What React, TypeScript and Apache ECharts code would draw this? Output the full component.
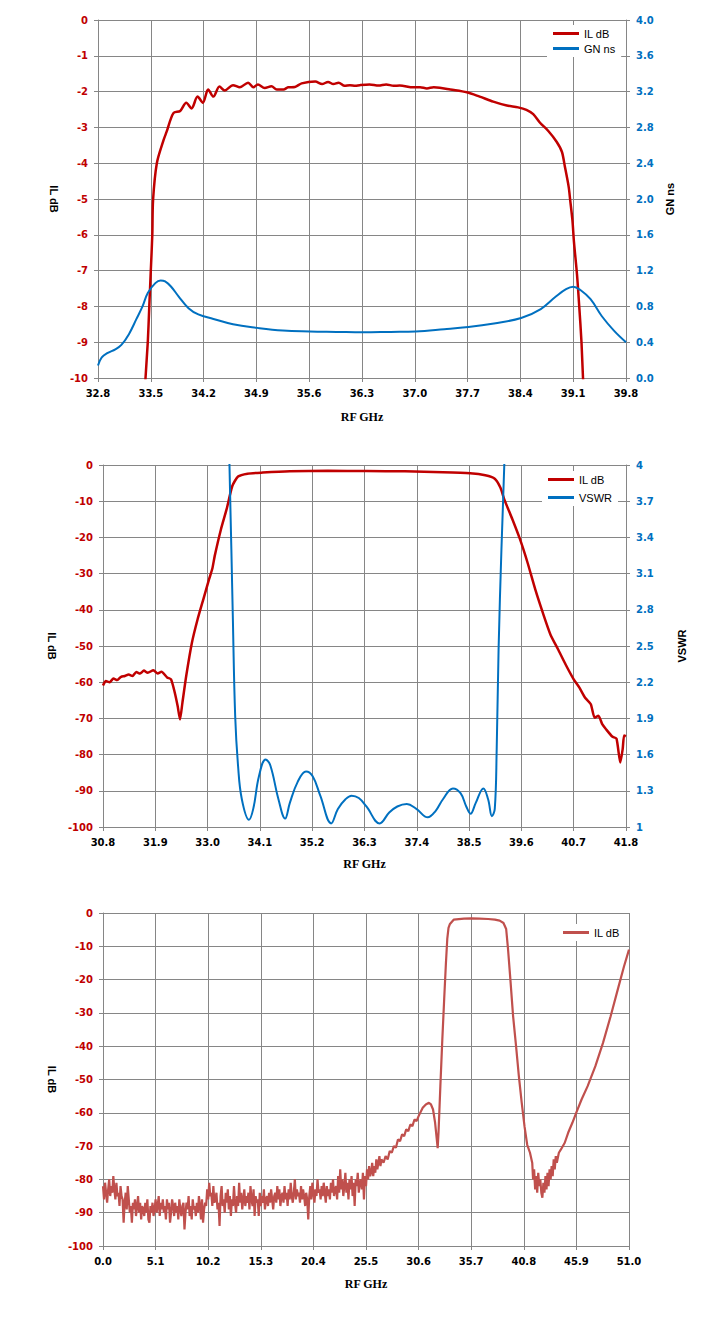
import React, { useEffect, useRef } from "react";
import * as echarts from "echarts";

// ---------- Chart 1 data (IL dB / GN ns vs RF GHz) ----------
const C1_IL_F = [33.41,33.43,33.46,33.48,33.50,33.52,33.53,33.58,33.67,33.71,33.80,33.89,33.97,34.04,34.12,34.19,34.26,34.33,34.41,34.48,34.59,34.68,34.79,34.86,34.92,35.01,35.10,35.17,35.26,35.32,35.41,35.50,35.68,35.77,35.85,35.92,35.99,36.07,36.14,36.21,36.27,36.40,36.52,36.62,36.72,36.80,36.98,37.07,37.16,37.25,37.33,37.47,37.69,37.86,38.04,38.22,38.37,38.48,38.57,38.66,38.77,38.88,38.95,38.99,39.04,39.06,39.09,39.11,39.15,39.18,39.21,39.23,39.26];
const C1_IL_V = [-11,-10,-9,-8,-7,-6,-5.03,-4.0,-3.35,-3.12,-2.6,-2.54,-2.31,-2.47,-2.14,-2.31,-1.94,-2.14,-1.86,-1.97,-1.82,-1.88,-1.75,-1.88,-1.80,-1.90,-1.85,-1.94,-1.94,-1.88,-1.87,-1.77,-1.72,-1.79,-1.73,-1.79,-1.75,-1.84,-1.82,-1.84,-1.82,-1.80,-1.83,-1.80,-1.84,-1.83,-1.88,-1.88,-1.91,-1.88,-1.89,-1.94,-2.02,-2.14,-2.28,-2.39,-2.44,-2.51,-2.63,-2.87,-3.10,-3.40,-3.68,-4.10,-4.66,-5.03,-5.6,-6.2,-7.1,-8.0,-9.0,-10,-11];
const C1_GN_F = [32.80,32.85,32.93,33.03,33.11,33.21,33.31,33.39,33.46,33.56,33.63,33.69,33.77,33.87,34.00,34.13,34.33,34.59,34.91,35.25,35.61,35.96,36.31,36.68,37.01,37.39,37.71,38.05,38.41,38.67,38.87,39.00,39.10,39.20,39.33,39.48,39.64,39.80];
const C1_GN_V = [0.14,0.23,0.28,0.32,0.37,0.49,0.66,0.80,0.95,1.06,1.09,1.08,1.02,0.91,0.78,0.71,0.66,0.60,0.56,0.53,0.52,0.515,0.51,0.515,0.52,0.545,0.57,0.61,0.67,0.77,0.91,0.99,1.02,0.98,0.88,0.69,0.53,0.40];

// ---------- Chart 2 data (IL dB / VSWR vs RF GHz) ----------
const C2_IL_F = [30.80,30.86,30.94,31.02,31.10,31.18,31.26,31.34,31.42,31.50,31.58,31.66,31.74,31.86,31.95,32.03,32.15,32.23,32.31,32.37,32.42,32.47,32.55,32.67,32.79,32.91,33.03,33.10,33.15,33.28,33.40,33.52,33.64,33.84,34.16,34.73,35.53,36.34,37.15,37.95,38.52,38.84,39.04,39.16,39.24,39.41,39.57,39.73,39.89,40.05,40.21,40.37,40.53,40.70,40.82,40.94,41.06,41.14,41.22,41.30,41.38,41.51,41.60,41.68,41.73,41.76,41.80];
const C2_IL_V = [-60.9,-59.7,-60.0,-59.0,-59.4,-58.5,-58.3,-57.9,-58.3,-57.2,-57.6,-56.8,-57.4,-56.7,-57.6,-57.1,-58.7,-59.2,-62.9,-66.6,-70.3,-65.7,-58.3,-49.1,-42.6,-37.1,-31.6,-28.6,-25.1,-17.8,-12.2,-5.8,-3.2,-2.4,-2.1,-1.75,-1.6,-1.66,-1.75,-2.0,-2.3,-2.85,-3.8,-6.3,-9.5,-15.0,-20.5,-27.0,-34.3,-40.8,-46.8,-50.9,-55.1,-59.2,-61.5,-64.3,-66.1,-69.8,-69.3,-71.6,-73.0,-75.0,-75.6,-82.2,-78.5,-74.7,-74.9];
const C2_VS_F = [33.44,33.46,33.50,33.53,33.58,33.64,33.72,33.87,33.96,34.08,34.22,34.32,34.49,34.63,34.73,34.89,35.07,35.21,35.37,35.60,35.74,35.90,36.03,36.18,36.34,36.62,36.82,36.99,37.19,37.39,37.63,37.79,37.95,38.16,38.32,38.44,38.53,38.64,38.80,38.90,38.98,39.04,39.08,39.12,39.18,39.24,39.27];
const C2_VS_V = [4.5,4.0,3.30,2.75,1.92,1.51,1.23,1.06,1.15,1.42,1.56,1.51,1.23,1.07,1.20,1.37,1.46,1.42,1.26,1.03,1.15,1.23,1.26,1.24,1.17,1.03,1.12,1.17,1.19,1.15,1.08,1.13,1.23,1.32,1.28,1.17,1.11,1.20,1.32,1.23,1.09,1.15,1.64,2.47,3.30,4.0,4.5];

// ---------- Chart 3 data (wideband IL dB vs RF GHz) ----------
const C3_NOISE_START = 0;
const C3_NOISE_STEP = 0.1;
const C3_NOISE_V = [
-82,-86,-81,-84,-87,-83,-80,-85,-82,-84,
-79,-83,-86,-81,-85,-84,-88,-82,-85,-86,
-93,-87,-84,-89,-82,-86,-90,-88,-93,-87,
-89,-86,-91,-88,-85,-90,-87,-92,-88,-89,
-91,-87,-90,-86,-92,-93,-88,-90,-87,-91,
-89,-86,-90,-88,-85,-91,-87,-89,-86,-90,
-88,-92,-86,-89,-87,-93,-90,-86,-88,-91,
-87,-90,-88,-92,-86,-89,-91,-88,-87,-95,
-90,-87,-89,-85,-91,-88,-92,-86,-89,-88,
-91,-87,-90,-85,-88,-92,-86,-93,-89,-87,
-88,-83,-86,-81,-85,-84,-88,-82,-87,-86,
-84,-89,-87,-94,-85,-82,-88,-86,-90,-84,
-87,-83,-89,-85,-91,-86,-88,-82,-87,-90,
-85,-88,-81,-87,-84,-89,-86,-83,-88,-85,
-87,-84,-89,-82,-86,-88,-83,-91,-85,-87,
-86,-91,-84,-88,-85,-87,-83,-89,-86,-85,
-88,-84,-87,-83,-86,-89,-85,-84,-87,-82,
-86,-83,-88,-85,-84,-87,-82,-86,-84,-88,
-83,-86,-81,-85,-87,-84,-80,-86,-83,-85,
-84,-87,-82,-86,-83,-85,-88,-84,-86,-92,
-85,-82,-86,-81,-84,-87,-83,-85,-80,-84,
-83,-86,-82,-85,-81,-84,-87,-82,-85,-83,
-86,-81,-84,-80,-85,-83,-82,-86,-79,-84,
-77,-83,-80,-85,-82,-78,-84,-81,-86,-80,
-83,-79,-85,-81,-88,-80,-82,-78,-84,-81,
-80,-83,-78,-86,-79,-82,-77,-80,-76,-79,
-78,-75,-79,-76,-78,-74,-77,-75,-73,-76,
-74];
const C3_TAIL_F = [27.2,27.4,27.6,27.8,28.0,28.2,28.4,28.6,28.8,29.0,29.2,29.4,29.6,29.8,30.0,30.2,30.4,30.6,31.0,31.3,31.6,31.8,32.0,32.2,32.45,32.53,32.71,32.9,33.08,33.25,33.38,33.5,33.64,34.0,35.0,35.7,36.5,37.35,38.0,38.46,38.83,39.09,39.27,39.5,39.76,40.05,40.32,40.6,40.87,41.13,41.4,41.62,41.7,41.8,41.9,42.0,42.1,42.2,42.3,42.4,42.5,42.6,42.7,42.8,42.9,43.0,43.1,43.2,43.3,43.4,43.5,43.6,43.7,43.8,43.9,44.0,44.2,44.4,44.77,45.1,45.51,45.88,46.4,46.99,47.74,48.48,49.22,49.96,50.52,51.0];
const C3_TAIL_V = [-75,-73,-74,-71.5,-72,-70,-70.5,-68,-68.5,-66.5,-67,-65,-65.5,-63.5,-64,-62,-62.5,-61,-58.5,-57.5,-57,-57.5,-59,-63,-70.6,-66,-52,-38,-25.9,-15,-7.8,-4.5,-3.3,-2.0,-1.7,-1.6,-1.7,-1.8,-2.0,-2.3,-3.0,-4.8,-10.8,-20,-30.9,-40,-49,-57,-64.1,-69.6,-72,-75.1,-80,-77,-83,-79,-84,-78,-82,-80,-84,-85.5,-81,-84,-79,-83,-78,-82,-77,-80,-76,-79,-74,-77,-73,-75,-72,-71,-69,-66,-63,-60,-56,-52,-46,-39,-31,-22.4,-16,-11];

// ---------- styles ----------
const GRID = "#868686";
const RED = "#C00000";
const BLUE = "#0070C0";
const RED3 = "#C0504D";
const TICK_FONT = "DejaVu Sans";
const LEGEND_FONT = "Liberation Sans";

const zip = (f: number[], v: number[]) => f.map((x, i) => [x, v[i]]);

function xAxisCfg(min: number, max: number, interval: number, nameGap: number) {
  return {
    type: "value",
    min,
    max,
    interval,
    name: "RF GHz",
    nameLocation: "middle",
    nameGap,
    nameTextStyle: { fontFamily: "Liberation Serif", fontWeight: "bold", fontSize: 12, color: "#000" },
    axisLine: { show: true, onZero: false, lineStyle: { color: GRID, width: 1 } },
    axisTick: { show: true, length: 4, lineStyle: { color: GRID } },
    axisLabel: {
      formatter: (v: number) => v.toFixed(1),
      color: "#000",
      fontFamily: TICK_FONT,
      fontWeight: "bold",
      fontSize: 10,
      margin: 10,
      showMinLabel: true,
      showMaxLabel: true,
    },
    splitLine: { show: true, lineStyle: { color: GRID, width: 1 } },
  };
}

function yAxisCfg(opts: {
  min: number; max: number; interval: number; position: "left" | "right";
  name: string; nameGap: number; color: string; split: boolean; fmt?: (v: number) => string;
}) {
  return {
    type: "value",
    min: opts.min,
    max: opts.max,
    interval: opts.interval,
    position: opts.position,
    name: opts.name,
    nameLocation: "middle",
    nameRotate: opts.position === "left" ? -90 : 90,
    nameGap: opts.nameGap,
    nameTextStyle: { fontFamily: LEGEND_FONT, fontWeight: "bold", fontSize: 11, color: "#000" },
    axisLine: { show: true, onZero: false, lineStyle: { color: GRID, width: 1 } },
    axisTick: { show: true, length: 4, lineStyle: { color: GRID } },
    axisLabel: {
      color: opts.color,
      fontFamily: TICK_FONT,
      fontWeight: "bold",
      fontSize: 10,
      margin: 10,
      showMinLabel: true,
      showMaxLabel: true,
      ...(opts.fmt ? { formatter: opts.fmt } : {}),
    },
    splitLine: { show: opts.split, lineStyle: { color: GRID, width: 1 } },
  };
}

function legendCfg(left: number, top: number, names: string[], itemGap: number) {
  return {
    orient: "vertical",
    left,
    top,
    icon: "rect",
    itemWidth: 26,
    itemHeight: 3,
    itemGap,
    padding: [3, 6, 3, 6],
    backgroundColor: "#ffffff",
    textStyle: { fontFamily: LEGEND_FONT, fontSize: 11, color: "#000" },
    data: names,
  };
}

const option1 = {
  animation: false,
  grid: { left: 98, top: 20, width: 528, height: 358 },
  legend: legendCfg(547, 25, ["IL dB", "GN ns"], 4),
  xAxis: xAxisCfg(32.8, 39.8, 0.7, 33),
  yAxis: [
    yAxisCfg({ min: -10, max: 0, interval: 1, position: "left", name: "IL dB", nameGap: 38, color: RED, split: true }),
    yAxisCfg({ min: 0, max: 4, interval: 0.4, position: "right", name: "GN ns", nameGap: 38, color: BLUE, split: false, fmt: (v: number) => v.toFixed(1) }),
  ],
  series: [
    { name: "IL dB", type: "line", yAxisIndex: 0, data: zip(C1_IL_F, C1_IL_V), showSymbol: false, symbol: "none", smooth: 0.3, lineStyle: { color: RED, width: 2.5 }, itemStyle: { color: RED } },
    { name: "GN ns", type: "line", yAxisIndex: 1, data: zip(C1_GN_F, C1_GN_V), showSymbol: false, symbol: "none", smooth: 0.4, lineStyle: { color: BLUE, width: 2 }, itemStyle: { color: BLUE } },
  ],
};

const option2 = {
  animation: false,
  grid: { left: 103, top: 25, width: 523, height: 362 },
  legend: legendCfg(542, 31, ["IL dB", "VSWR"], 7),
  xAxis: xAxisCfg(30.8, 41.8, 1.1, 31),
  yAxis: [
    yAxisCfg({ min: -100, max: 0, interval: 10, position: "left", name: "IL dB", nameGap: 41, color: RED, split: true }),
    yAxisCfg({ min: 1, max: 4, interval: 0.3, position: "right", name: "VSWR", nameGap: 50, color: BLUE, split: false }),
  ],
  series: [
    { name: "IL dB", type: "line", yAxisIndex: 0, data: zip(C2_IL_F, C2_IL_V), showSymbol: false, symbol: "none", smooth: 0.2, lineStyle: { color: RED, width: 2.5 }, itemStyle: { color: RED } },
    { name: "VSWR", type: "line", yAxisIndex: 1, data: zip(C2_VS_F, C2_VS_V), showSymbol: false, symbol: "none", smooth: 0.4, lineStyle: { color: BLUE, width: 2 }, itemStyle: { color: BLUE } },
  ],
};

const c3Noise = C3_NOISE_V.map((v, i) => [Math.round((C3_NOISE_START + i * C3_NOISE_STEP) * 10) / 10, v]);
const option3 = {
  animation: false,
  grid: { left: 103, top: 25, width: 526, height: 333 },
  legend: legendCfg(557, 36, ["IL dB"], 4),
  xAxis: xAxisCfg(0, 51, 5.1, 32),
  yAxis: [
    yAxisCfg({ min: -100, max: 0, interval: 10, position: "left", name: "IL dB", nameGap: 44, color: RED, split: true }),
  ],
  series: [
    { name: "IL dB", type: "line", data: [...c3Noise, ...zip(C3_TAIL_F, C3_TAIL_V)], showSymbol: false, symbol: "none", lineStyle: { color: RED3, width: 2.2 }, itemStyle: { color: RED3 } },
  ],
};

function Chart({ option, height }: { option: any; height: number }) {
  const ref = useRef<HTMLDivElement>(null);
  useEffect(() => {
    if (!ref.current) return;
    const chart = echarts.init(ref.current, undefined, { renderer: "svg" });
    chart.setOption(option);
    return () => chart.dispose();
  }, [option]);
  return <div ref={ref} style={{ width: 718, height }} />;
}

export default function App() {
  return (
    <div style={{ position: "absolute", left: 0, top: 0, width: 718, height: 1332, background: "#fff" }}>
      <Chart option={option1} height={440} />
      <Chart option={option2} height={448} />
      <Chart option={option3} height={444} />
    </div>
  );
}
